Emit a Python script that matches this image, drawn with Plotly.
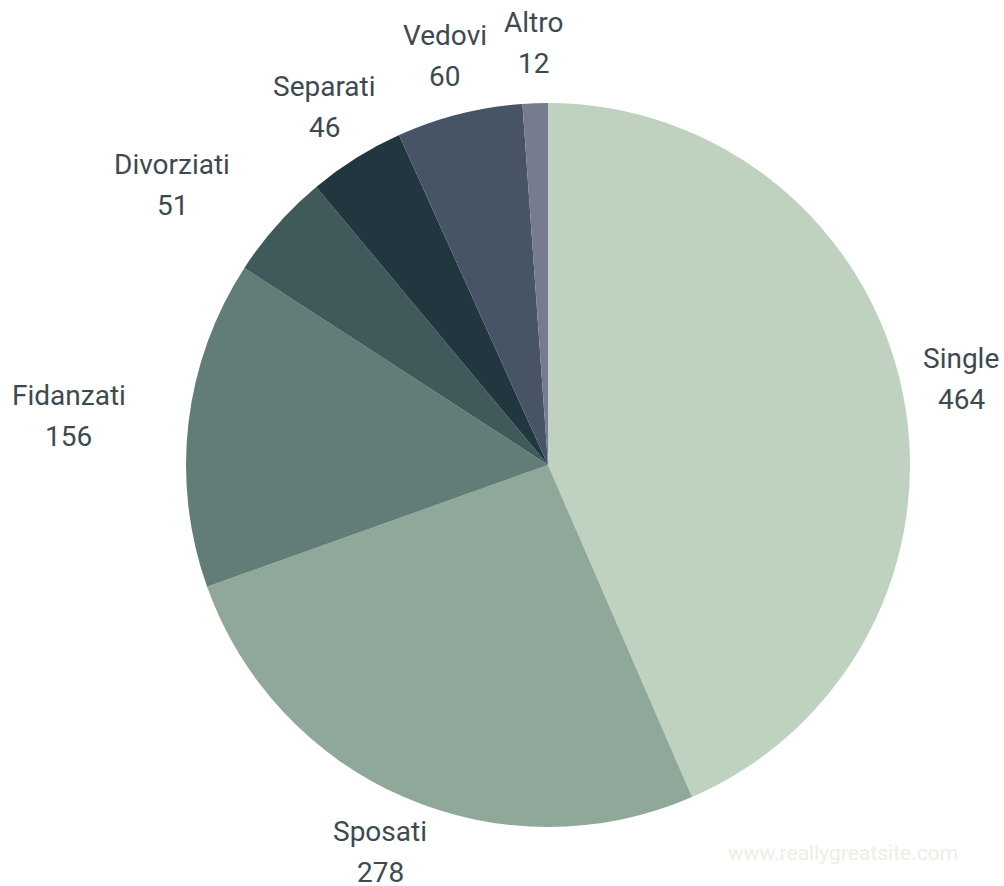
import math
import plotly.graph_objects as go

labels = ["Single", "Sposati", "Fidanzati", "Divorziati", "Separati", "Vedovi", "Altro"]
values = [464, 278, 156, 51, 46, 60, 12]
colors = ["#BFD2BF", "#8FA89A", "#627D78", "#40595A", "#21363F", "#465466", "#767B8E"]

W, H = 1004, 886
CX, CY, R = 548, 465, 362          # pie centre / radius in pixels
FONT = dict(family="Roboto", size=28, color="#3E4A52")
CHAR_W, HALF_H, LINE_GAP = 12.8, 31, 41
BASE_D, H_PUSH = 422, 60

fig = go.Figure(go.Pie(
    labels=labels, values=values, sort=False, direction="clockwise", rotation=0,
    marker=dict(colors=colors, line=dict(width=0)),
    textinfo="none", showlegend=False, hoverinfo="label+value",
    domain=dict(x=[(CX - R) / W, (CX + R) / W], y=[1 - (CY + R) / H, 1 - (CY - R) / H]),
))

def box_dist(cx, cy, hw, hh):
    nx = min(max(CX, cx - hw), cx + hw)
    ny = min(max(CY, cy - hh), cy + hh)
    return math.hypot(nx - CX, ny - CY)

annotations = []
total = sum(values)
cum = 0
for lab, val in zip(labels, values):
    theta = math.radians((cum + val / 2) / total * 360)
    cum += val
    sx, sy = math.sin(theta), -math.cos(theta)
    hw = max(len(lab), len(str(val))) * CHAR_W / 2
    px, py = CX + BASE_D * sx, CY + BASE_D * sy
    if box_dist(px, py, hw, HALF_H) < R + 3:
        px += H_PUSH * (1 if sx > 0 else -1)
    for txt, yy in ((lab, py - LINE_GAP / 2), (str(val), py + LINE_GAP / 2)):
        annotations.append(dict(text=txt, x=px / W, y=1 - yy / H, xref="paper", yref="paper",
                                xanchor="center", yanchor="middle", showarrow=False, font=FONT))

annotations.append(dict(text="www.reallygreatsite.com", x=843 / W, y=1 - 853 / H,
                        xref="paper", yref="paper", xanchor="center", yanchor="middle",
                        showarrow=False, font=dict(family="Roboto", size=21, color="#F0EDE5")))

fig.update_layout(width=W, height=H, margin=dict(l=0, r=0, t=0, b=0),
                  paper_bgcolor="white", annotations=annotations)
fig.write_html("out.html", config={"displayModeBar": False},
               post_script="document.body.style.margin='0';")
